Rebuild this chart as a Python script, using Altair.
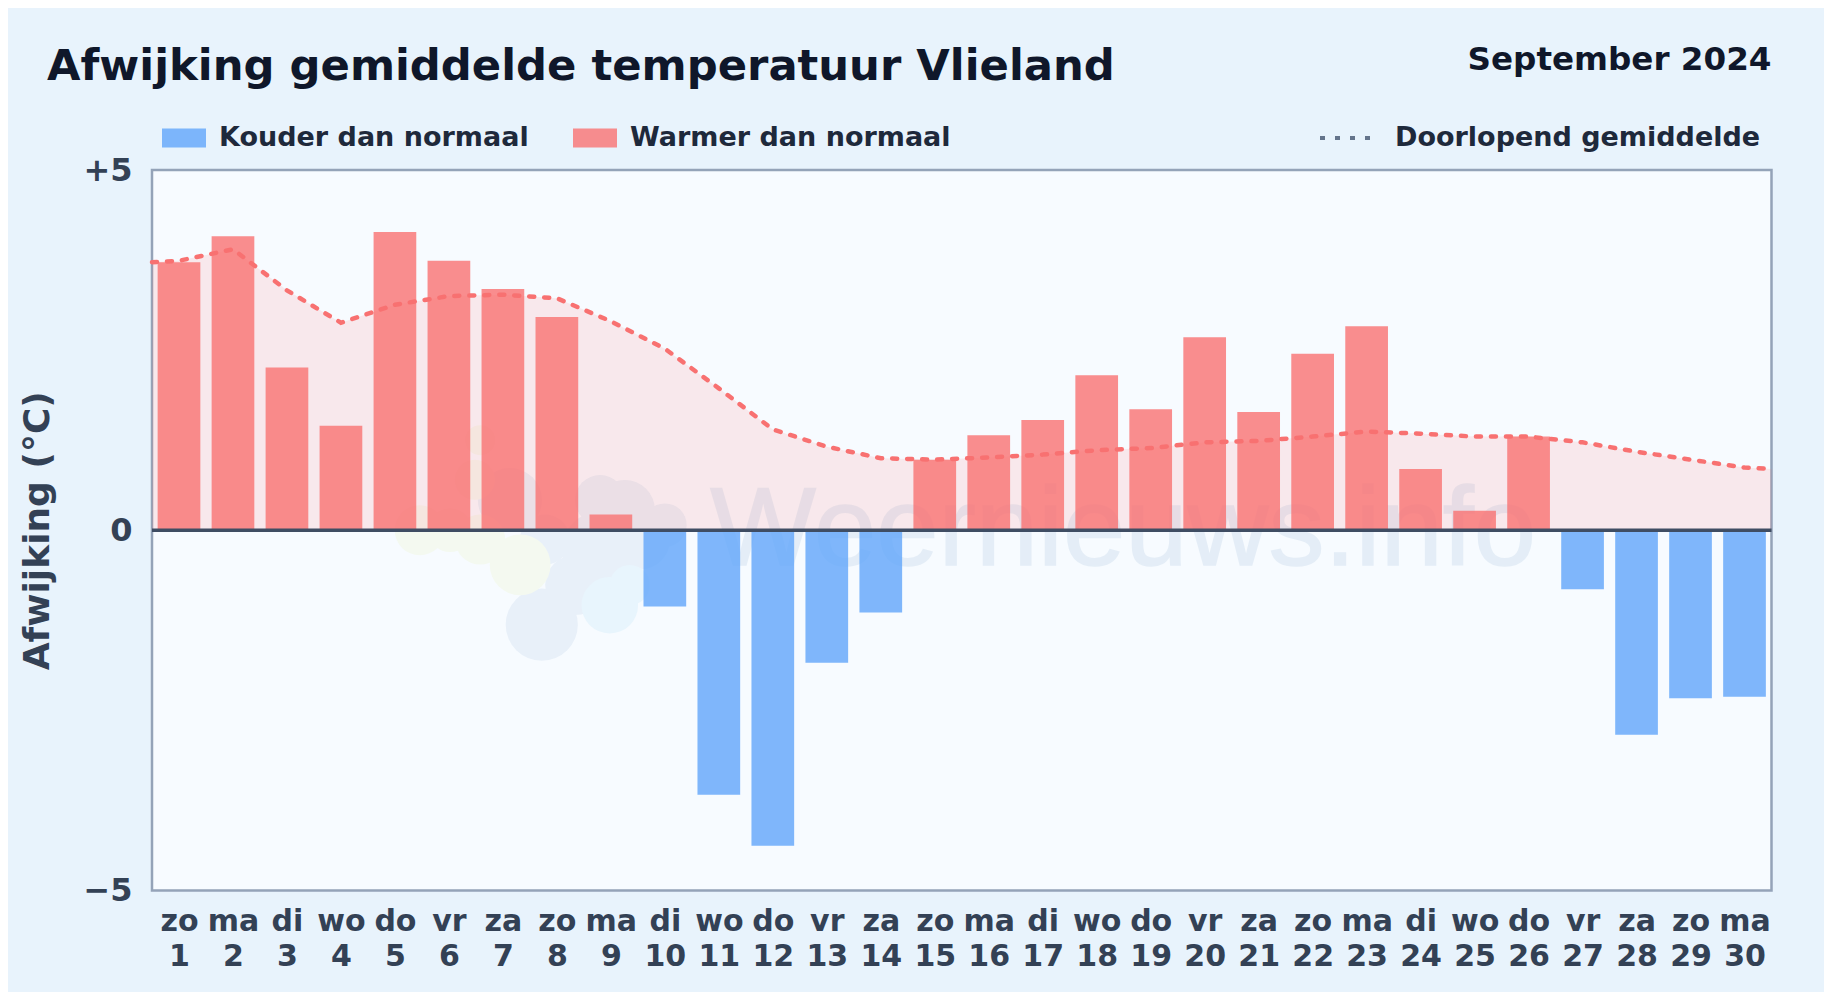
import altair as alt
import pandas as pd

FONT = "DejaVu Sans"
BG = "#e8f3fc"
TITLE = "Afwijking gemiddelde temperatuur Vlieland"
PERIOD = "September 2024"
Y_TITLE = "Afwijking (°C)"
WATERMARK = "Weernieuws.info"
COLD = "Kouder dan normaal"
WARM = "Warmer dan normaal"
RUNNING = "Doorlopend gemiddelde"

days = list(range(1, 31))
weekdays = ["zo", "ma", "di", "wo", "do", "vr", "za", "zo", "ma", "di", "wo", "do", "vr", "za", "zo",
            "ma", "di", "wo", "do", "vr", "za", "zo", "ma", "di", "wo", "do", "vr", "za", "zo", "ma"]
deviation = [3.72, 4.08, 2.26, 1.45, 4.14, 3.74, 3.35, 2.96, 0.22, -1.06,
             -3.67, -4.38, -1.84, -1.14, 0.98, 1.32, 1.53, 2.15, 1.68, 2.68,
             1.64, 2.45, 2.83, 0.85, 0.27, 1.30, -0.82, -2.84, -2.33, -2.31]
running_x = [0.5] + days + [30.5]
running = [3.72, 3.74, 3.90, 3.33, 2.88, 3.13, 3.25, 3.27, 3.22, 2.90, 2.52,
           1.97, 1.40, 1.16, 1.00, 0.98, 1.01, 1.05, 1.11, 1.14, 1.22,
           1.24, 1.30, 1.37, 1.34, 1.30, 1.30, 1.22, 1.09, 0.98, 0.87, 0.85]
logo_x = [7.72, 8.34, 8.80, 9.54, 10.0, 7.13, 8.80, 9.26, 7.78,
          7.32, 6.58, 5.46, 6.02, 6.48, 6.58,
          8.98, 9.35]
logo_y = [-1.31, -0.76, -0.27, -0.13, 0.07, 0.42, 0.42, 0.28, -0.13,
          -0.48, -0.13, 0.0, 0.0, 0.70, 1.25,
          -1.04, -0.76]
logo_area = [5200, 3600, 5800, 3600, 1900, 4100, 2500, 3600, 2500,
             3700, 2500, 2500, 1900, 1600, 900,
             3200, 1600]
logo_group = ["a"] * 9 + ["b"] * 6 + ["c"] * 2

W, H = 1619.5, 720.5

bars = pd.DataFrame({"day": days, "value": deviation,
                     "type": [COLD if v < 0 else WARM for v in deviation]})
avg = pd.DataFrame({"day": running_x, "value": running, "name": RUNNING})
logo = pd.DataFrame({"day": logo_x, "value": logo_y, "area": logo_area, "group": logo_group})

x = alt.X("day:Q", scale=alt.Scale(domain=[0.5, 30.5], nice=False, zero=False, padding=0),
          axis=alt.Axis(values=days, title=None, grid=False, domain=False, ticks=False,
                        labelFont=FONT, labelFontSize=30, labelFontWeight="bold", labelColor="#334155",
                        labelPadding=40, labelLineHeight=35, labelAngle=0, labelOverlap=False,
                        labelBaseline="alphabetic", labelFlush=False,
                        labelExpr="[" + str(weekdays) + "[datum.value - 1], '' + datum.value]"))
y = alt.Y("value:Q", scale=alt.Scale(domain=[-5, 5], nice=False),
          axis=alt.Axis(values=[-5, 0, 5], title=Y_TITLE, grid=False, domain=False, ticks=False,
                        labelFont=FONT, labelFontSize=32, labelFontWeight="bold", labelColor="#334155",
                        labelPadding=20, titleFont=FONT, titleFontSize=36, titleFontWeight="bold",
                        titleColor="#334155", titlePadding=26,
                        labelExpr="datum.value > 0 ? '+' + datum.value : datum.value < 0 ? '\u2212' + abs(datum.value) : '0'"))

logo_layer = alt.Chart(logo).mark_circle(opacity=1).encode(
    x=x, y=y,
    size=alt.Size("area:Q", scale=None, legend=None),
    color=alt.Color("group:N", legend=None,
                    scale=alt.Scale(domain=["a", "b", "c"], range=["#e8f0f9", "#f4f9f0", "#e8f5fd"])))
mark_layer = alt.Chart(alt.Data(values=[{"day": 18.49, "value": -0.48, "label": WATERMARK}])).mark_text(
    font="Liberation Sans", fontSize=112, color="#4a7fb8", opacity=0.1, baseline="alphabetic", align="center",
    stroke="#4a7fb8", strokeWidth=1.5
).encode(x=x, y=y, text="label:N")

area = alt.Chart(avg).mark_area(color="#ff6b6b", opacity=0.13, interpolate="linear").encode(
    x=x, y=y, y2=alt.datum(0))

bar = alt.Chart(bars).mark_bar(width=42.7, opacity=0.8).encode(
    x=x, y=y, y2=alt.datum(0),
    color=alt.Color("type:N", scale=alt.Scale(domain=[COLD, WARM], range=["#60a5fa", "#f97272"]),
                    legend=alt.Legend(orient="none", legendX=10, legendY=-54, direction="horizontal",
                                      title=None, symbolType="M-1,-0.43H1V0.43H-1Z", symbolSize=1936,
                                      labelFont=FONT, labelFontSize=27, labelFontWeight="bold",
                                      labelColor="#1e293b", labelOffset=13, columnPadding=44, labelLimit=500,
                                      padding=0, symbolStrokeWidth=0, symbolOpacity=0.8)))

line = alt.Chart(avg).mark_line(color="#f87171", strokeWidth=4.5, strokeCap="round", interpolate="linear").encode(
    x=x, y=y,
    strokeDash=alt.StrokeDash("name:N", scale=alt.Scale(domain=[RUNNING], range=[[5, 10]]),
                              legend=alt.Legend(orient="none", legendX=1166, legendY=-62, title=None,
                                                symbolType="stroke", symbolSize=3136, symbolStrokeWidth=4,
                                                symbolStrokeColor="#64748b", symbolDash=[5, 12],
                                                labelFont=FONT, labelFontSize=27, labelFontWeight="bold",
                                                labelColor="#1e293b", labelOffset=17, labelLimit=500, padding=0)))

zero = alt.Chart(alt.Data(values=[{"value": 0}])).mark_rule(color="#3f4d63", strokeWidth=3.7).encode(y=y)

period = alt.Chart(alt.Data(values=[{"label": PERIOD}])).mark_text(
    font=FONT, fontSize=32.6, fontWeight="bold", color="#0f172a", align="right", baseline="alphabetic"
).encode(x=alt.value(W), y=alt.value(-100), text="label:N")

chart = alt.layer(logo_layer, mark_layer, area, bar, line, zero, period).resolve_legend(
    color="independent", strokeDash="independent"
).resolve_scale(color="independent").properties(
    width=W, height=H,
    autosize=alt.AutoSizeParams(type="none"),
    padding={"left": 144, "top": 162, "right": 52.5, "bottom": 101.5},
    background=BG,
    title=alt.TitleParams(TITLE, anchor="start", frame="group", dx=-105, dy=79, offset=0,
                          baseline="alphabetic", font=FONT, fontSize=43.3, fontWeight="bold", color="#0f172a"),
).configure_view(fill="#f7fbff", stroke="#94a3b8", strokeWidth=2.5)

chart.save("out.html", embed_options={"renderer": "svg", "actions": False})
